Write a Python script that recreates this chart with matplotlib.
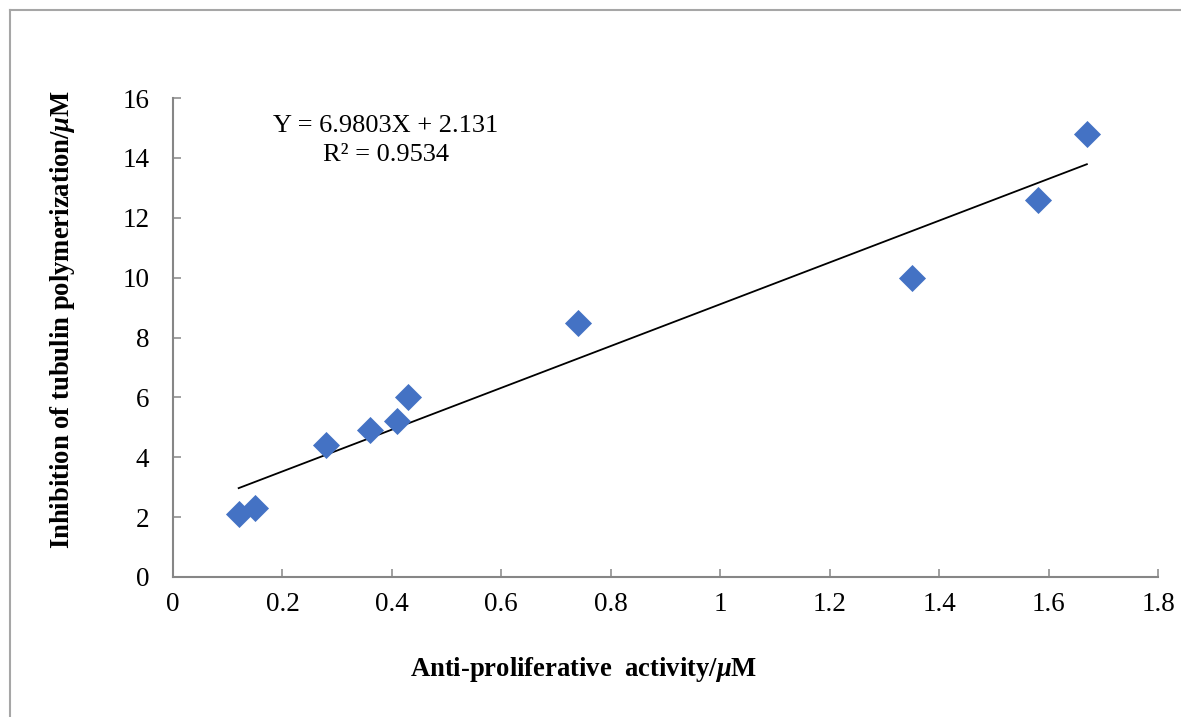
import matplotlib.pyplot as plt
from matplotlib.lines import Line2D

# dati
attivita = [0.12, 0.15, 0.28, 0.36, 0.41, 0.43, 0.74, 1.35, 1.58, 1.67]
inibizione = [2.1, 2.3, 4.4, 4.9, 5.2, 6.0, 8.5, 10.0, 12.6, 14.8]
pendenza = 6.9803
intercetta = 2.131
r2 = 0.9534
x_ticks = [0, 0.2, 0.4, 0.6, 0.8, 1, 1.2, 1.4, 1.6, 1.8]
y_ticks = [0, 2, 4, 6, 8, 10, 12, 14, 16]

plt.rcParams["font.family"] = ["Liberation Serif", "DejaVu Serif"]
plt.rcParams["mathtext.fontset"] = "custom"
plt.rcParams["mathtext.rm"] = "Liberation Serif:bold"
plt.rcParams["mathtext.it"] = "Liberation Serif:italic:bold"
plt.rcParams["mathtext.bf"] = "Liberation Serif:bold"

grigio = "#868686"

fig = plt.figure(figsize=(11.81, 7.17), dpi=100)
ax = fig.add_axes([173 / 1181, 1 - 577 / 717, 985 / 1181, 479 / 717])

ax.scatter(attivita, inibizione, marker="D", s=190, color="#4472C4", zorder=3, linewidths=0)

# retta di tendenza
x_fit = [min(attivita), max(attivita)]
y_fit = [pendenza * x + intercetta for x in x_fit]
ax.plot(x_fit, y_fit, color="black", lw=1.3, zorder=2)

ax.set_xlim(0, 1.8)
ax.set_ylim(0, 16)
ax.set_xticks(x_ticks)
ax.set_xticklabels([f"{t:g}" for t in x_ticks])
ax.set_yticks(y_ticks)

for side in ["top", "right"]:
    ax.spines[side].set_visible(False)
for side in ["left", "bottom"]:
    ax.spines[side].set_color(grigio)
    ax.spines[side].set_linewidth(1.5)

ax.tick_params(axis="both", direction="in", length=6, width=1.1, color=grigio, labelsize=19.5)
ax.tick_params(axis="y", pad=17)
ax.tick_params(axis="x", pad=11)

ax.text(0.216, 0.911, f"Y = {pendenza}X + {intercetta}\nR² = {r2}", transform=ax.transAxes,
        ha="center", va="center", fontsize=19, linespacing=1.4)

fig.text(584 / 1181, 1 - 669 / 717, "Anti-proliferative  activity/$\\mu$M",
         ha="center", va="center", fontsize=19.2, fontweight="bold")
fig.text(63 / 1181, 1 - 319 / 717, "Inhibition of tubulin polymerization/$\\mu$M",
         ha="center", va="center", rotation=90, fontsize=19.2, fontweight="bold")

# cornice esterna (solo lati sinistro e superiore visibili)
fig.add_artist(Line2D([10 / 1181, 10 / 1181], [0, 1 - 10 / 717], color="#a6a6a6", lw=1.5))
fig.add_artist(Line2D([10 / 1181, 1], [1 - 10 / 717, 1 - 10 / 717], color="#a6a6a6", lw=1.5))

fig.savefig("out.png", dpi=100)
